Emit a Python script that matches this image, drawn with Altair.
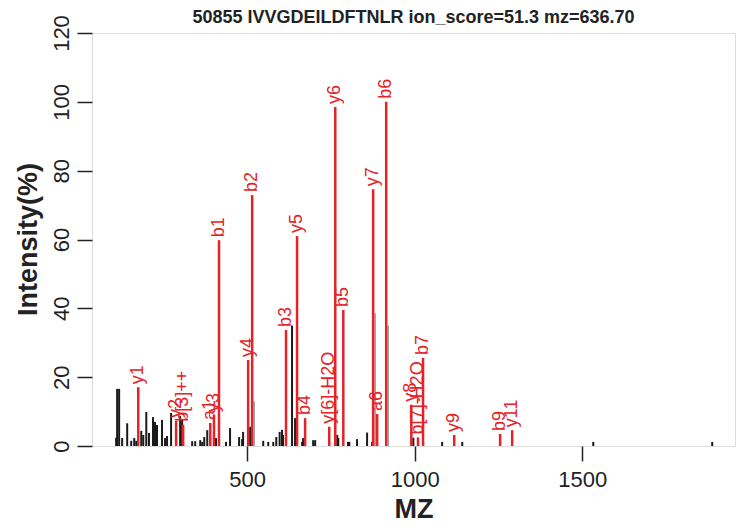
import altair as alt
import pandas as pd

FONT = "Liberation Sans"
RED = "#e42228"

TITLE = "50855 IVVGDEILDFTNLR ion_score=51.3 mz=636.70"

# unmatched (black) peaks
black_mz = [109, 112, 118, 127, 142, 154, 163, 169, 184, 190, 199, 207, 219, 225, 231,
            246, 255, 261, 273, 300, 306, 336, 345, 360, 366, 372, 381, 407, 437, 449,
            476, 485, 488, 509, 548, 563, 578, 587, 597, 604, 607, 634, 643, 664, 667,
            697, 703, 769, 772, 801, 805, 828, 858, 873, 996, 1082, 1142, 1533, 1888]
black_int = [2.4, 16.6, 16.6, 2.3, 6.6, 1.5, 2.3, 1.5, 4.4, 3.2, 9.9, 3.8, 8.4, 7.0, 6.1,
             7.6, 2.3, 2.9, 9.6, 8.7, 7.8, 1.4, 1.4, 1.7, 1.2, 2.6, 4.6, 2.3, 1.2, 5.2,
             2.6, 2.0, 4.1, 5.6, 1.5, 1.2, 1.2, 2.6, 4.1, 4.7, 3.2, 35.0, 8.1, 1.2, 2.3,
             1.7, 1.7, 3.2, 2.3, 1.2, 1.2, 2.0, 3.9, 1.2, 2.4, 1.2, 1.2, 1.2, 1.2]

# faint neighbours of matched peaks
shadow_mz = [521, 882, 921]
shadow_int = [13, 38.6, 35]

# matched (red) peaks
red_mz = [175, 288, 309, 390, 401, 416, 503, 515, 616, 649, 673, 745, 763, 787,
          876, 888, 915, 990, 1010, 1025, 1118, 1255, 1291]
red_int = [17.1, 7.3, 6.2, 6.7, 9.0, 59.8, 25.0, 72.9, 33.7, 61.0, 8.1, 5.6, 98.5, 39.5,
           74.6, 9.3, 100.0, 12.0, 2.5, 25.6, 3.2, 3.5, 4.6]
red_label = ["y1", "y2", "b[3]++", "a1", "y3", "b1", "y4", "b2", "b3", "y5", "b4",
             "y[6]-H2O", "y6", "b5", "y7", "a6", "b6", "y8", "b[7]-H2O", "b7", "y9",
             "b9", "y11"]

x_ticks = [500, 1000, 1500]
y_ticks = [0, 20, 40, 60, 80, 100, 120]

df_black = pd.DataFrame({"mz": black_mz, "intensity": black_int})
df_shadow = pd.DataFrame({"mz": shadow_mz, "intensity": shadow_int})
df_red = pd.DataFrame({"mz": red_mz, "intensity": red_int, "label": red_label})
df_title = pd.DataFrame({"t": [TITLE]})

xs = alt.Scale(domain=[37, 1956], nice=False, zero=False)
ys = alt.Scale(domain=[0, 120], nice=False)

x_axis = alt.Axis(values=x_ticks, format="d", title="MZ", grid=False, domain=False,
                  tickSize=15, tickWidth=1.5, tickColor="#222",
                  labelFontSize=22, labelFont=FONT, labelColor="#222", labelPadding=8,
                  titleFontSize=27, titleFont=FONT, titleFontWeight="bold", titleColor="#222",
                  titleY=63, titleBaseline="middle")
y_axis = alt.Axis(values=y_ticks, title="Intensity(%)", grid=False, domain=False,
                  tickSize=15, tickWidth=1.5, tickColor="#222",
                  labelFontSize=22, labelFont=FONT, labelColor="#222", labelPadding=9,
                  labelAngle=270, labelAlign="center", labelBaseline="alphabetic",
                  titleFontSize=27, titleFont=FONT, titleFontWeight="bold", titleColor="#222",
                  titleX=-64, titleY=206, titleAngle=270, titleAlign="center",
                  titleBaseline="middle")

black = alt.Chart(df_black).mark_rule(color="#1a1a1a", strokeWidth=2).encode(
    x=alt.X("mz:Q", scale=xs, axis=x_axis),
    y=alt.Y("intensity:Q", scale=ys, axis=y_axis),
    y2=alt.datum(0),
)
shadow = alt.Chart(df_shadow).mark_rule(color="#9a9a9a", strokeWidth=1.5).encode(
    x=alt.X("mz:Q", scale=xs),
    y=alt.Y("intensity:Q", scale=ys),
    y2=alt.datum(0),
)
red = alt.Chart(df_red).mark_rule(color=RED, strokeWidth=2.5).encode(
    x=alt.X("mz:Q", scale=xs),
    y=alt.Y("intensity:Q", scale=ys),
    y2=alt.datum(0),
)
labels = alt.Chart(df_red).mark_text(
    color=RED, font=FONT, fontSize=18, angle=270, align="left", baseline="middle", dx=3
).encode(
    x=alt.X("mz:Q", scale=xs),
    y=alt.Y("intensity:Q", scale=ys),
    text="label:N",
)
title = alt.Chart(df_title).mark_text(
    font=FONT, fontSize=18, fontWeight="bold", color="#222",
    align="center", baseline="alphabetic"
).encode(
    x=alt.value(321.5),
    y=alt.value(-10),
    text="t:N",
)

chart = alt.layer(black, shadow, red, labels, title).properties(
    width=643, height=413,
    autosize=alt.AutoSizeParams(type="none"),
    padding={"left": 84, "top": 25, "right": 2, "bottom": 76},
).configure_view(stroke="#222", strokeWidth=1.6).configure(background="white")

chart.save("out.html", embed_options={"renderer": "svg", "actions": False})
